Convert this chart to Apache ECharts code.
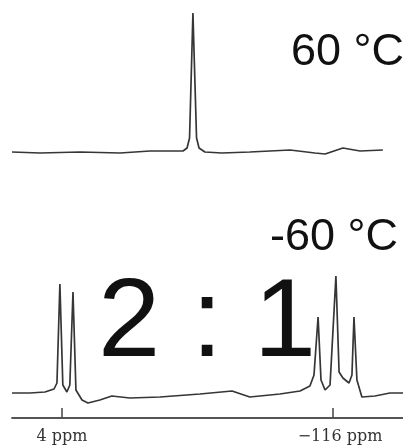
<!DOCTYPE html>
<html>
<head>
<meta charset="utf-8">
<script src="https://cdn.jsdelivr.net/npm/echarts@6/dist/echarts.min.js"></script>
<style>
  html, body { margin: 0; padding: 0; background: #fff; }
  #chart { width: 403px; height: 448px; }
</style>
</head>
<body>
<div id="chart"></div>
<script>
// chemical shift (ppm) and intensity of each trace
var hotPpm = [26.1, 13.7, -4.0, -21.7, -35.0, -49.6, -51.4, -52.5, -54.0, -55.6, -56.7, -59.3, -66.8, -79.2, -97.0, -108.0, -112.5, -120.4, -128.0, -138.1];
var hotInt = [8, 7, 8, 7, 9, 9, 12, 22, 147, 22, 12, 8, 7, 8, 10, 7, 6, 12, 9, 10];

var coldPpm = [26.1, 18.2, 11.5, 7.5, 6.2, 4.9, 3.6, 1.8, 0.5, -0.9, -2.2, -4.9, -7.5, -12.8, -18.1, -26.1, -39.4, -57.1, -71.3, -79.2, -92.5, -101.4, -105.8, -107.6, -109.4, -110.7, -112.5, -114.7, -117.3, -118.7, -120.4, -123.1, -124.4, -125.3, -126.6, -128.8, -134.6, -141.2, -147.0];
var coldInt = [25, 25, 26, 29, 35, 134, 33, 26, 33, 126, 28, 18, 15, 18, 22, 20, 21, 24, 27, 21, 24, 27, 32, 43, 101, 38, 28, 33, 142, 46, 40, 35, 43, 101, 38, 21, 22, 25, 25];

var tickValues = [4, -116];
var tickLabels = ['4 ppm', '−116 ppm'];

var hotLabel = '60 °C';
var coldLabel = '-60 °C';
var ratioLabel = '2 : 1';

function pairs(xs, ys) {
  var out = [];
  xs.forEach(function (x, i) { out.push([x, ys[i]]); });
  return out;
}

var chart = echarts.init(document.getElementById('chart'));

var lineStyle = { color: '#363636', width: 1.7 };

chart.setOption({
  animation: false,
  backgroundColor: '#fff',
  grid: [
    { left: 12, right: 0, top: 10, height: 150 },
    { left: 12, right: 0, top: 270, bottom: 30 }
  ],
  xAxis: [
    { type: 'value', gridIndex: 0, min: -147, max: 26.1, inverse: true, show: false },
    {
      type: 'value', gridIndex: 1, min: -147, max: 26.1, inverse: true,
      splitLine: { show: false },
      axisLine: { lineStyle: { color: '#555', width: 1.8 } },
      axisTick: { customValues: tickValues, inside: true, length: 10, lineStyle: { color: '#444', width: 1.5 } },
      axisLabel: {
        customValues: tickValues,
        margin: 19,
        verticalAlign: 'middle',
        fontFamily: 'DejaVu Serif',
        fontSize: 16,
        color: '#333',
        formatter: function (v) {
          var i = tickValues.indexOf(v);
          return i === 1 ? '{r|' + tickLabels[i] + '}' : tickLabels[i];
        },
        rich: { r: { fontFamily: 'DejaVu Serif', fontSize: 16, color: '#333', padding: [0, 0, 0, 14] } }
      }
    }
  ],
  yAxis: [
    { type: 'value', gridIndex: 0, min: 0, max: 150, show: false },
    { type: 'value', gridIndex: 1, min: 0, max: 148, show: false }
  ],
  series: [
    {
      name: 'hot', type: 'line', xAxisIndex: 0, yAxisIndex: 0,
      showSymbol: false, lineStyle: lineStyle, data: pairs(hotPpm, hotInt)
    },
    {
      name: 'cold', type: 'line', xAxisIndex: 1, yAxisIndex: 1,
      showSymbol: false, lineStyle: lineStyle, data: pairs(coldPpm, coldInt)
    }
  ],
  graphic: [
    {
      type: 'text', left: 291, top: 30,
      style: { text: hotLabel, font: '45px "Liberation Sans", Arial, sans-serif', fill: '#111' }
    },
    {
      type: 'text', left: 270, top: 215,
      style: { text: coldLabel, font: '45px "Liberation Sans", Arial, sans-serif', fill: '#111' }
    },
    {
      type: 'text', left: 98, top: 269,
      style: { text: ratioLabel, font: '112px "Liberation Sans", Arial, sans-serif', fill: '#111' }
    }
  ]
});
</script>
</body>
</html>
